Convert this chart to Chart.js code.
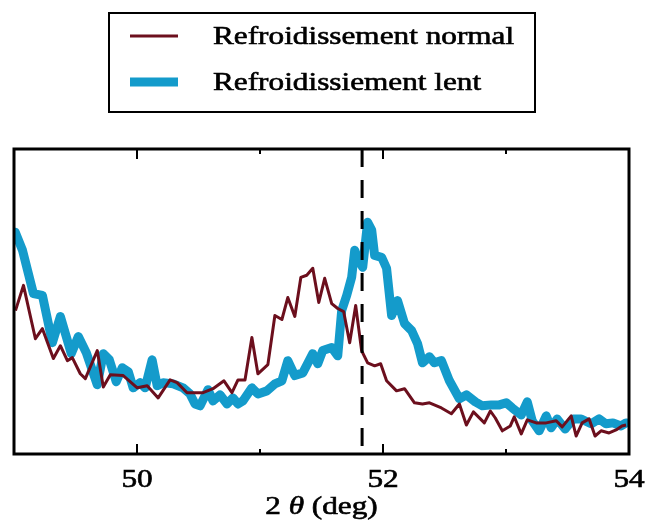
<!DOCTYPE html>
<html>
<head>
<meta charset="utf-8">
<script src="https://cdn.jsdelivr.net/npm/chart.js@4/dist/chart.umd.min.js"></script>
<style>
  html, body { margin: 0; padding: 0; background: #fff; }
  #wrap { width: 649px; height: 527px; }
</style>
</head>
<body>
<div id="wrap"><canvas id="myChart" width="649" height="527"></canvas></div>
<script>
// 2 theta positions (deg) and intensities (arb. units)
const theta_normal = [49.012, 49.077, 49.174, 49.231, 49.320, 49.377, 49.434, 49.474, 49.539, 49.580,
  49.677, 49.726, 49.783, 49.888, 50.002, 50.083, 50.172, 50.269, 50.326, 50.407,
  50.472, 50.537, 50.618, 50.707, 50.772, 50.821, 50.878, 50.934, 50.983, 51.064,
  51.121, 51.178, 51.226, 51.283, 51.332, 51.380, 51.429, 51.478, 51.526, 51.583,
  51.632, 51.680, 51.729, 51.778, 51.826, 51.875, 51.932, 51.981, 52.029, 52.110,
  52.175, 52.256, 52.321, 52.378, 52.475, 52.556, 52.621, 52.678, 52.735, 52.824,
  52.873, 52.913, 52.970, 53.035, 53.067, 53.124, 53.173, 53.246, 53.327, 53.408,
  53.457, 53.530, 53.570, 53.619, 53.676, 53.724, 53.773, 53.838, 53.895, 53.943, 53.976];
const int_normal = [47.0, 55.3, 37.8, 41.1, 31.3, 35.5, 30.6, 31.6, 26.3, 24.7,
  33.9, 22.0, 26.0, 25.7, 21.7, 22.4, 18.4, 24.3, 23.4, 20.1,
  20.1, 20.1, 21.4, 24.0, 20.1, 24.3, 24.3, 38.2, 26.3, 29.3,
  45.4, 44.1, 51.3, 45.1, 57.9, 58.6, 60.9, 49.7, 57.6, 49.3,
  47.7, 46.7, 36.5, 48.7, 33.9, 29.9, 28.9, 29.6, 24.0, 20.7,
  21.4, 16.8, 16.4, 16.8, 15.1, 13.2, 16.4, 9.5, 13.8, 10.2,
  14.1, 11.8, 7.6, 9.2, 12.2, 6.6, 11.2, 10.2, 10.2, 10.9,
  8.9, 12.5, 5.9, 10.2, 11.5, 5.9, 7.6, 6.9, 7.9, 9.2, 9.5];

const theta_lent = [49.010, 49.069, 49.158, 49.231, 49.312, 49.377, 49.466, 49.523, 49.588, 49.677,
  49.726, 49.775, 49.831, 49.880, 49.929, 49.969, 50.026, 50.066, 50.123, 50.164,
  50.212, 50.294, 50.375, 50.431, 50.472, 50.513, 50.577, 50.618, 50.675, 50.732,
  50.780, 50.821, 50.861, 50.934, 50.983, 51.056, 51.121, 51.178, 51.226, 51.283,
  51.348, 51.429, 51.470, 51.510, 51.583, 51.632, 51.664, 51.705, 51.745, 51.770,
  51.794, 51.835, 51.875, 51.908, 51.932, 51.989, 52.029, 52.070, 52.118, 52.175,
  52.232, 52.281, 52.321, 52.378, 52.418, 52.475, 52.540, 52.621, 52.678, 52.751,
  52.808, 52.881, 52.946, 53.002, 53.051, 53.124, 53.173, 53.213, 53.270, 53.327,
  53.367, 53.416, 53.481, 53.546, 53.611, 53.692, 53.757, 53.813, 53.870, 53.935, 53.976];
const int_lent = [72.7, 66.8, 52.6, 52.0, 36.5, 45.1, 32.9, 38.5, 33.2, 22.7,
  32.9, 30.9, 23.7, 28.3, 27.0, 21.7, 23.4, 21.7, 30.9, 22.4,
  23.4, 23.0, 21.7, 19.7, 16.4, 15.8, 21.1, 17.4, 19.4, 16.4,
  18.4, 16.4, 17.4, 21.7, 19.7, 20.7, 23.0, 24.0, 30.6, 25.7,
  26.6, 32.9, 29.6, 33.9, 34.9, 32.2, 47.0, 52.0, 57.9, 66.8,
  64.1, 61.2, 76.0, 73.4, 65.1, 64.5, 60.9, 45.4, 50.3, 42.8,
  40.5, 36.2, 29.9, 31.9, 29.9, 30.6, 24.0, 18.1, 19.4, 17.1,
  15.8, 16.1, 16.1, 16.8, 15.1, 12.8, 17.1, 10.9, 7.6, 12.5,
  8.6, 11.5, 8.2, 11.5, 11.5, 9.9, 11.5, 9.9, 10.2, 9.2, 10.2];

const noms = ["Refroidissement normal", "Refroidissiement lent"];
const couleurs = ["#6c0f1d", "#149bcb"];
const epaisseurs = [3, 9];
const x_labels = [50, 52, 54];
const x_min = 49;
const x_max = 54;
const pic_ref = 51.83; // position of the reference peak (dashed line)

const SERIF = "'Liberation Serif', 'Times New Roman', serif";
const SX = 1.25; // horizontal stretch of the text

// text helper, stretched horizontally and slightly thickened
const texte = (ctx, str, x, y, align) => {
  const w = ctx.measureText(str).width * SX;
  let x0 = x;
  if (align === "center") x0 = x - w / 2;
  if (align === "right") x0 = x - w;
  ctx.save();
  ctx.translate(x0, y);
  ctx.scale(SX, 1);
  ctx.fillStyle = "#000";
  ctx.strokeStyle = "#000";
  ctx.lineWidth = 0.6;
  ctx.setLineDash([]);
  ctx.fillText(str, 0, 0);
  ctx.strokeText(str, 0, 0);
  ctx.restore();
  return w;
};

const ligne_pic = {
  id: "ligne_pic",
  afterDatasetsDraw(chart) {
    const { ctx, chartArea } = chart;
    const px = chart.scales.x.getPixelForValue(pic_ref);
    ctx.save();
    ctx.strokeStyle = "#000";
    ctx.lineWidth = 3;
    ctx.setLineDash([18, 13]);
    ctx.beginPath();
    ctx.moveTo(px, chartArea.top);
    ctx.lineTo(px, chartArea.bottom);
    ctx.stroke();
    ctx.restore();
  },
};

const cadre = {
  id: "cadre",
  afterDraw(chart) {
    const { ctx, chartArea } = chart;
    const sx = chart.scales.x;
    ctx.save();
    ctx.strokeStyle = "#000";
    ctx.lineWidth = 3;
    ctx.strokeRect(chartArea.left, chartArea.top, chartArea.right - chartArea.left, chartArea.bottom - chartArea.top);

    // inward ticks, top and bottom
    ctx.lineWidth = 2;
    for (let v = x_min + 1; v < x_max; v++) {
      const px = sx.getPixelForValue(v);
      const len = x_labels.includes(v) ? 10 : 5;
      ctx.beginPath();
      ctx.moveTo(px, chartArea.bottom);
      ctx.lineTo(px, chartArea.bottom - len);
      ctx.moveTo(px, chartArea.top);
      ctx.lineTo(px, chartArea.top + len);
      ctx.stroke();
    }

    // tick labels
    ctx.font = "25px " + SERIF;
    ctx.textBaseline = "alphabetic";
    for (const v of x_labels) {
      texte(ctx, String(v), sx.getPixelForValue(v), chartArea.bottom + 33, "center");
    }

    // axis title: 2 θ (deg)
    const cx = (chartArea.left + chartArea.right) / 2;
    const y = chartArea.bottom + 60;
    const parts = [["2 ", "25px " + SERIF], ["θ", "italic 25px " + SERIF], [" (deg)", "25px " + SERIF]];
    let total = 0;
    for (const [s, f] of parts) { ctx.font = f; total += ctx.measureText(s).width * SX; }
    let x = cx - total / 2;
    for (const [s, f] of parts) { ctx.font = f; x += texte(ctx, s, x, y, "left"); }

    // legend box
    ctx.strokeStyle = "#000";
    ctx.lineWidth = 2;
    ctx.strokeRect(109, 13, 426, 99);
    const rows = [36, 82];
    noms.forEach((nom, i) => {
      ctx.strokeStyle = couleurs[i];
      ctx.lineWidth = epaisseurs[i];
      ctx.beginPath();
      ctx.moveTo(130, rows[i]);
      ctx.lineTo(178, rows[i]);
      ctx.stroke();
      ctx.font = "25px " + SERIF;
      texte(ctx, nom, 213, rows[i] + 8, "left");
    });
    ctx.restore();
  },
};

const serie = (xs, ys) => xs.map((x, i) => ({ x: x, y: ys[i] }));

const ctx = document.getElementById("myChart").getContext("2d");
const myChart = new Chart(ctx, {
  type: "line",
  data: {
    datasets: [
      {
        label: noms[0],
        data: serie(theta_normal, int_normal),
        borderColor: couleurs[0],
        borderWidth: epaisseurs[0],
        pointRadius: 0,
        tension: 0,
        borderJoinStyle: "round",
      },
      {
        label: noms[1],
        data: serie(theta_lent, int_lent),
        borderColor: couleurs[1],
        borderWidth: epaisseurs[1],
        pointRadius: 0,
        tension: 0,
        borderJoinStyle: "round",
        borderCapStyle: "round",
      },
    ],
  },
  options: {
    responsive: false,
    animation: false,
    layout: { padding: { left: 14, right: 20, top: 149, bottom: 73 } },
    plugins: { legend: { display: false }, tooltip: { enabled: false } },
    scales: {
      x: { type: "linear", min: x_min, max: x_max, display: false },
      y: { min: 0, max: 100, display: false },
    },
  },
  plugins: [ligne_pic, cadre],
});
</script>
</body>
</html>
